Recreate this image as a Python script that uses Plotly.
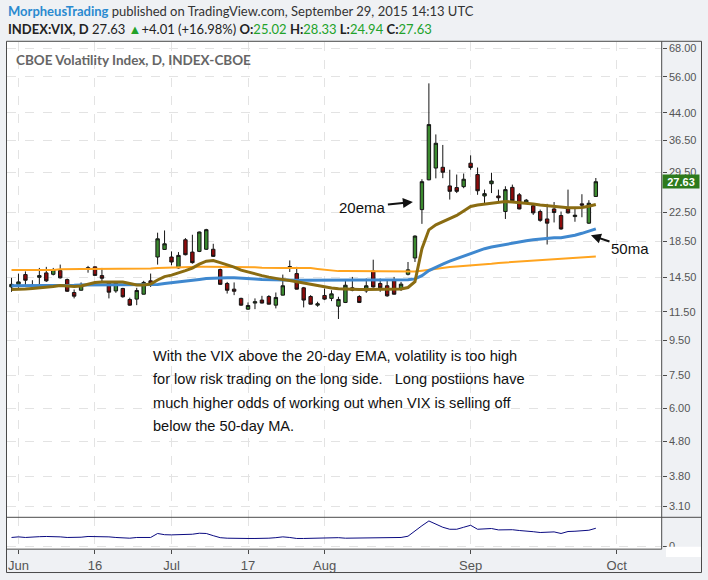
import numpy as np
import pandas as pd
import plotly.graph_objects as go

# ---------------- data ----------------
holidays = ["2015-07-03", "2015-09-07"]
dates = [d.strftime("%Y-%m-%d") for d in pd.bdate_range("2015-05-29", "2015-09-28")
         if d.strftime("%Y-%m-%d") not in holidays]

opens = [13.60, 13.84, 14.78, 13.76, 14.51, 14.95, 14.81, 15.19, 14.29, 13.10,
         13.30, 15.49, 15.57, 14.68, 14.03, 13.24, 13.46, 12.50, 12.53, 12.95,
         14.17, 16.64, 17.51, 16.64, 15.46, 18.69, 17.20, 17.28, 17.53, 17.53,
         15.29, 13.92, 13.40, 12.59, 11.71, 12.20, 12.45, 12.75, 12.03, 12.87,
         15.46, 14.88, 13.52, 12.75, 12.03, 12.84, 12.59, 11.95, 12.25, 13.52,
         12.75, 13.24, 15.15, 13.92, 13.71, 14.29, 13.37, 14.81, 16.53, 22.90,
         27.99, 30.30, 30.45, 26.86, 26.56, 26.73, 31.30, 29.00, 25.10, 27.26,
         25.10, 22.60, 26.60, 25.30, 23.90, 23.50, 22.60, 21.50, 23.00, 22.00,
         23.00, 21.85, 23.80, 20.90, 25.02]
highs = [14.46, 14.88, 15.10, 14.23, 15.46, 15.57, 15.46, 15.81, 14.39, 13.37,
         14.02, 15.67, 15.60, 15.46, 14.13, 14.07, 13.52, 12.65, 13.52, 14.17,
         14.88, 19.60, 19.90, 17.28, 17.20, 18.90, 19.33, 19.75, 20.12, 18.19,
         15.39, 14.07, 14.02, 12.65, 12.25, 12.59, 12.81, 12.87, 13.10, 14.78,
         16.26, 15.57, 13.60, 12.87, 12.31, 13.46, 13.30, 12.73, 14.23, 14.55,
         12.87, 14.39, 16.34, 14.39, 14.23, 14.55, 14.07, 16.09, 19.25, 28.10,
         53.60, 38.00, 35.40, 29.95, 29.00, 29.20, 33.00, 30.40, 26.20, 29.35,
         26.20, 26.80, 27.10, 25.60, 24.60, 23.90, 22.90, 23.80, 24.10, 22.60,
         26.20, 23.20, 25.40, 24.40, 28.33]
lows = [13.16, 13.52, 13.76, 13.46, 13.60, 14.07, 14.70, 14.39, 13.16, 12.59,
        13.28, 14.97, 14.68, 14.07, 12.59, 13.07, 12.65, 11.98, 12.03, 12.93,
        13.60, 15.81, 17.45, 15.74, 15.39, 16.82, 15.91, 17.20, 17.45, 16.64,
        13.80, 13.01, 12.87, 11.98, 11.66, 11.71, 12.17, 12.09, 11.77, 12.85,
        15.04, 13.37, 11.85, 12.09, 11.90, 12.45, 12.36, 10.96, 12.20, 13.21,
        12.20, 13.07, 13.54, 13.16, 12.73, 12.93, 13.24, 14.70, 16.09, 20.80,
        27.90, 28.27, 28.30, 24.50, 25.60, 26.45, 29.95, 25.30, 23.80, 25.60,
        24.00, 21.50, 24.00, 22.95, 23.80, 22.10, 21.10, 18.10, 21.00, 20.00,
        22.30, 21.10, 21.75, 20.80, 24.94]
closes = [13.84, 14.07, 14.23, 13.60, 14.68, 14.17, 15.29, 14.46, 13.21, 12.78,
          13.84, 15.36, 14.70, 14.42, 13.13, 14.02, 12.73, 12.03, 13.28, 14.02,
          13.92, 18.81, 18.19, 16.09, 16.82, 16.90, 16.02, 19.69, 20.00, 16.71,
          13.84, 13.30, 13.21, 12.03, 12.00, 12.31, 12.20, 12.11, 12.67, 13.71,
          15.60, 13.40, 12.45, 12.11, 12.14, 12.53, 12.98, 12.50, 13.76, 13.30,
          12.25, 13.71, 13.60, 13.52, 12.81, 12.95, 13.86, 15.26, 19.16, 27.64,
          40.60, 35.80, 29.46, 25.90, 25.90, 28.10, 30.40, 26.00, 25.50, 27.76,
          24.80, 26.20, 24.30, 23.00, 24.40, 22.40, 21.30, 20.90, 22.45, 20.10,
          22.40, 22.05, 23.60, 23.90, 27.63]

ema20 = [13.37, 13.37, 13.41, 13.46, 13.50, 13.55, 13.64, 13.73, 13.69, 13.64,
         13.69, 13.87, 14.01, 14.06, 14.08, 14.10, 14.06, 13.92, 13.78, 13.78,
         13.87, 14.25, 14.58, 14.73, 14.93, 15.18, 15.44, 15.86, 16.18, 16.24,
         16.02, 15.81, 15.55, 15.23, 15.03, 14.83, 14.68, 14.53, 14.39, 14.29,
         14.20, 14.08, 13.92, 13.78, 13.69, 13.55, 13.50, 13.43, 13.39, 13.37,
         13.37, 13.37, 13.37, 13.37, 13.37, 13.37, 13.41, 13.55, 14.10, 17.60,
         19.98, 20.67, 21.08, 21.51, 22.02, 22.70, 23.39, 23.62, 23.78, 23.90,
         24.02, 24.18, 24.10, 24.02, 23.93, 23.78, 23.62, 23.50, 23.36, 23.23,
         23.19, 23.19, 23.23, 23.42, 23.70]
ma50 = [13.71, 13.71, 13.71, 13.71, 13.71, 13.71, 13.71, 13.73, 13.73, 13.76,
        13.78, 13.78, 13.79, 13.79, 13.79, 13.79, 13.79, 13.78, 13.78, 13.78,
        13.78, 13.82, 13.92, 14.01, 14.10, 14.17, 14.25, 14.31, 14.39, 14.44,
        14.46, 14.47, 14.46, 14.44, 14.39, 14.34, 14.29, 14.27, 14.23, 14.23,
        14.23, 14.23, 14.23, 14.23, 14.23, 14.23, 14.23, 14.23, 14.23, 14.23,
        14.23, 14.23, 14.23, 14.23, 14.23, 14.23, 14.23, 14.27, 14.36, 14.68,
        15.18, 15.55, 15.86, 16.18, 16.45, 16.78, 17.07, 17.36, 17.60, 17.80,
        17.96, 18.14, 18.26, 18.38, 18.57, 18.69, 18.78, 18.88, 18.94, 18.94,
        19.07, 19.26, 19.52, 19.78, 20.12]
ma_long = [15.25, 15.25, 15.25, 15.25, 15.25, 15.25, 15.25, 15.33, 15.36, 15.36,
           15.36, 15.36, 15.36, 15.36, 15.36, 15.36, 15.36, 15.36, 15.36, 15.36,
           15.41, 15.46, 15.49, 15.52, 15.55, 15.56, 15.57, 15.57, 15.57, 15.57,
           15.57, 15.57, 15.57, 15.57, 15.57, 15.52, 15.47, 15.44, 15.44, 15.44,
           15.44, 15.44, 15.44, 15.44, 15.36, 15.28, 15.20, 15.13, 15.13, 15.13,
           15.13, 15.13, 15.13, 15.13, 15.13, 15.13, 15.13, 15.08, 15.10, 15.18,
           15.28, 15.36, 15.46, 15.55, 15.60, 15.65, 15.70, 15.78, 15.86, 15.91,
           15.99, 16.04, 16.09, 16.15, 16.20, 16.26, 16.30, 16.34, 16.41, 16.47,
           16.52, 16.56, 16.60, 16.64, 16.70]
osc = [1.31, 1.40, 1.31, 1.40, 1.43, 1.46, 1.46, 1.40, 1.31, 1.31,
       1.35, 1.46, 1.46, 1.46, 1.40, 1.31, 1.25, 1.20, 1.31, 1.31,
       1.31, 1.91, 1.73, 1.70, 1.70, 1.70, 1.80, 1.95, 1.91, 1.58,
       1.28, 1.20, 1.16, 1.16, 1.16, 1.16, 1.16, 1.20, 1.28, 1.40,
       1.31, 1.16, 1.16, 1.20, 1.25, 1.31, 1.31, 1.28, 1.20, 1.20,
       1.25, 1.28, 1.28, 1.28, 1.28, 1.28, 1.31, 1.50, 2.33, 3.08,
       3.80, 3.30, 2.85, 2.55, 2.55, 2.85, 3.15, 2.55, 2.55, 2.66,
       2.45, 2.45, 2.48, 2.36, 2.30, 2.18, 2.06, 2.10, 2.15, 1.91,
       2.21, 2.25, 2.30, 2.40, 2.70]

tick_dates = ["2015-06-01", "2015-06-16", "2015-07-01", "2015-07-17",
              "2015-08-03", "2015-09-01", "2015-10-01"]
tick_text = ["Jun", "16", "Jul", "17", "Aug", "Sep", "Oct"]

y_ticks = [3.10, 3.80, 4.80, 6.00, 7.50, 9.50, 11.50, 14.50, 18.50, 22.50,
           29.50, 36.50, 44.00, 56.00, 68.00]
y_tick_text = ["%.2f" % v for v in y_ticks]

last_close = 27.63

# ---------------- helpers ----------------
W, H = 708, 580


def pos(d):
    return int(np.busday_count("2015-06-01", d, holidays=holidays))


x = [pos(d) for d in dates]
tick_pos = [pos(d) for d in tick_dates]


def px(v):
    return v / W


def py(v):
    return 1 - v / H


BG = "#eff1f4"
FRAME = "#4a4a4a"
GRID = "#e3e3e3"
AXTXT = "#555555"
GREEN = "#3b8a2f"
RED = "#8e0b0b"
WICK = "#151515"
HFONT = "Lato, Open Sans, sans-serif"

fig = go.Figure()

fig.add_trace(go.Scatter(x=x, y=ma_long, mode="lines",
                         line=dict(color="#ffa41f", width=2), hoverinfo="skip"))
fig.add_trace(go.Scatter(x=x, y=ma50, mode="lines",
                         line=dict(color="#3f88cf", width=3), hoverinfo="skip"))
fig.add_trace(go.Scatter(x=x, y=ema20, mode="lines",
                         line=dict(color="#8a6c12", width=3), hoverinfo="skip"))
fig.add_trace(go.Candlestick(
    x=x, open=opens, high=highs, low=lows, close=closes,
    increasing=dict(fillcolor=GREEN, line=dict(color=WICK, width=1)),
    decreasing=dict(fillcolor=RED, line=dict(color=WICK, width=1)),
    whiskerwidth=0, hoverinfo="skip"))
fig.add_trace(go.Scatter(x=x, y=osc, mode="lines", xaxis="x2", yaxis="y2",
                         line=dict(color="#0a0a80", width=1), hoverinfo="skip"))

xdom = [px(7), px(661.7)]
xr = [-1.65, 92.47]
fig.update_layout(
    width=W, height=H, autosize=False,
    margin=dict(l=0, r=0, t=0, b=0),
    paper_bgcolor=BG, plot_bgcolor="white",
    showlegend=False, boxgap=0.3,
    font=dict(family="Arial, Liberation Sans, sans-serif", color="#333"),
    xaxis=dict(domain=xdom, range=xr, anchor="y", showticklabels=False,
               tickvals=tick_pos, showgrid=True, gridcolor=GRID, griddash="dash",
               zeroline=False, showline=False, ticks="",
               rangeslider=dict(visible=False), fixedrange=True),
    xaxis2=dict(domain=xdom, range=xr, anchor="y2", matches="x",
                tickvals=tick_pos, ticktext=tick_text, ticks="outside", ticklen=4,
                tickcolor=FRAME, showgrid=True, gridcolor=GRID, griddash="dash",
                zeroline=False, showline=False,
                tickfont=dict(family="Liberation Sans Narrow, Arial Narrow, Arial",
                              size=13, color=AXTXT)),
    yaxis=dict(domain=[py(520), py(42)], type="log",
               range=[np.log10(2.881), np.log10(70.93)], anchor="x", side="right",
               tickvals=y_ticks, ticktext=y_tick_text, ticks="outside", ticklen=4,
               tickcolor=FRAME, showgrid=True, gridcolor=GRID, griddash="dash",
               zeroline=False, showline=False,
               tickfont=dict(family="Arial", size=11, color=AXTXT), fixedrange=True),
    yaxis2=dict(domain=[py(552), py(520)], range=[-0.45, 4.35], anchor="x2",
                side="right", tickvals=[0], ticktext=["0"], ticks="outside",
                ticklen=4, tickcolor=FRAME, showgrid=True, gridcolor=GRID,
                griddash="dash", zeroline=False, showline=False,
                tickfont=dict(family="Arial", size=11, color=AXTXT)),
)

# frame lines
line = dict(color=FRAME, width=1)
shapes = [
    dict(type="rect", xref="paper", yref="paper", x0=px(6.5), x1=px(701.5),
         y0=py(575.5), y1=py(41.5), line=line, layer="above"),
    dict(type="line", xref="paper", yref="paper", x0=px(661.7), x1=px(661.7),
         y0=py(552), y1=py(41.5), line=line, layer="above"),
    dict(type="line", xref="paper", yref="paper", x0=px(6.5), x1=px(701.5),
         y0=py(520), y1=py(520), line=line, layer="above"),
    dict(type="line", xref="paper", yref="paper", x0=px(6.5), x1=px(661.7),
         y0=py(552), y1=py(552), line=line, layer="above"),
    # clip the lower "0" label like the original
    dict(type="rect", xref="paper", yref="paper", x0=px(666), x1=px(701),
         y0=py(560), y1=py(549.5), fillcolor="white", line=dict(width=0),
         layer="above"),
]
fig.update_layout(shapes=shapes)

ann = []
# header
ann.append(dict(xref="paper", yref="paper", x=px(6), y=py(11), xanchor="left",
                yanchor="middle", showarrow=False,
                font=dict(family=HFONT, size=13, color="#333"),
                text="<span style='color:#2a8ad0'><b>MorpheusTrading</b></span>"
                     " published on TradingView.com, September 29, 2015 14:13 UTC"))
G = "#22a22a"
ann.append(dict(xref="paper", yref="paper", x=px(6), y=py(29), xanchor="left",
                yanchor="middle", showarrow=False,
                font=dict(family=HFONT, size=13, color="#222"),
                text="<b>INDEX:VIX, D</b> 27.63 <span style='color:%s'>\u25b2</span>"
                     "+4.01 (+16.98%%) <b>O:</b><span style='color:%s'>25.02</span>"
                     " <b>H:</b><span style='color:%s'>28.33</span>"
                     " <b>L:</b><span style='color:%s'>24.94</span>"
                     " <b>C:</b><span style='color:%s'>27.63</span>" % (G, G, G, G, G)))
ann.append(dict(xref="paper", yref="paper", x=px(14), y=py(60), xanchor="left",
                yanchor="middle", showarrow=False,
                font=dict(family=HFONT, size=13.5, color="#666"),
                text="<b>CBOE Volatility Index, D, INDEX-CBOE</b>"))
# last price label
ann.append(dict(xref="paper", yref="y", x=px(662), y=np.log10(last_close),
                xanchor="left", yanchor="middle", showarrow=False,
                text="<b>%.2f</b>" % last_close, bgcolor="#2d7a1c",
                font=dict(family="Arial", size=11, color="white"),
                borderpad=1, width=34, height=11))
# callouts
ann.append(dict(xref="x", yref="y", x=56.7, y=np.log10(24.10), ax=-50, ay=5,
                text="20ema", showarrow=True, arrowhead=2, arrowsize=1,
                arrowwidth=2, arrowcolor="#111",
                font=dict(family="Arial", size=15, color="#111")))
ann.append(dict(xref="x", yref="y", x=82.3, y=np.log10(19.26), ax=39, ay=13,
                text="50ma", showarrow=True, arrowhead=2, arrowsize=1,
                arrowwidth=2, arrowcolor="#111",
                font=dict(family="Arial", size=15, color="#111")))
# note text
note = ["With the VIX above the 20-day EMA, volatility is too high",
        "for low risk trading on the long side.\u00a0\u00a0\u00a0Long postiions have",
        "much higher odds of working out when VIX is selling off",
        "below the 50-day MA."]
for k, t in enumerate(note):
    ann.append(dict(xref="paper", yref="paper", x=px(151), y=py(358 + 23.3 * k),
                    xanchor="left", yanchor="middle", showarrow=False, text=t,
                    font=dict(family="Arial", size=14.6, color="#111")))
fig.update_layout(annotations=ann)

fig.write_html("out.html")
